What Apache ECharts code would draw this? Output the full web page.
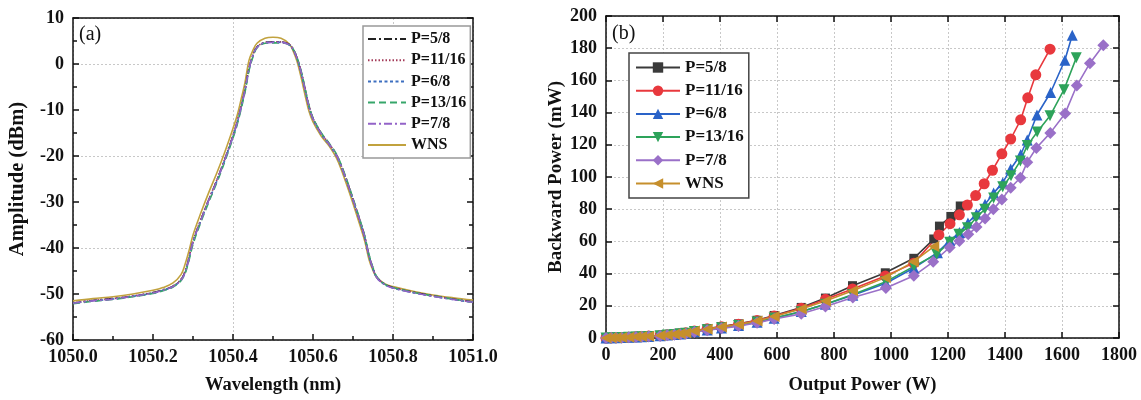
<!DOCTYPE html>
<html><head><meta charset="utf-8">
<script src="https://cdn.jsdelivr.net/npm/echarts@6/dist/echarts.min.js"></script>
<style>html,body{margin:0;padding:0;background:#fff}#c{width:1141px;height:400px}</style>
</head><body><div id="c"></div>
<script>
// ---------- (a) spectra ----------
const wavelength = [1050.00, 1050.05, 1050.10, 1050.15, 1050.20, 1050.225, 1050.25, 1050.27, 1050.28, 1050.29, 1050.30, 1050.32, 1050.34, 1050.36, 1050.38, 1050.40, 1050.41, 1050.42, 1050.43, 1050.44, 1050.45, 1050.46, 1050.48, 1050.50, 1050.52, 1050.54, 1050.55, 1050.56, 1050.57, 1050.58, 1050.59, 1050.60, 1050.62, 1050.64, 1050.66, 1050.68, 1050.70, 1050.72, 1050.73, 1050.74, 1050.75, 1050.76, 1050.78, 1050.80, 1050.85, 1050.90, 1050.95, 1051.00];
const ampP58  = [-52.0, -51.4, -51.0, -50.5, -49.7, -49.1, -48.3, -46.9, -45.2, -42.2, -38.6, -33.8, -29.4, -25.2, -20.6, -15.6, -12.8, -9.4, -5.6, -1.0, 1.9, 3.7, 4.7, 4.8, 4.8, 4.3, 3.3, 1.3, -1.6, -5.4, -9.2, -11.8, -15.0, -17.3, -20.0, -24.3, -29.4, -34.8, -37.8, -41.6, -44.4, -46.4, -47.9, -48.6, -49.6, -50.4, -51.1, -51.7];
const ampP1116 = [-51.9, -51.4, -51.0, -50.4, -49.7, -49.1, -48.3, -46.8, -45.1, -42.1, -38.5, -33.7, -29.3, -25.1, -20.5, -15.5, -12.7, -9.3, -5.5, -0.9, 2.0, 3.7, 4.7, 4.8, 4.8, 4.3, 3.3, 1.4, -1.5, -5.3, -9.1, -11.8, -15.0, -17.3, -20.0, -24.3, -29.4, -34.8, -37.8, -41.6, -44.5, -46.4, -47.9, -48.6, -49.6, -50.4, -51.1, -51.7];
const ampP68  = [-52.0, -51.5, -51.1, -50.5, -49.8, -49.2, -48.4, -47.0, -45.4, -42.4, -38.8, -34.0, -29.6, -25.4, -20.8, -15.8, -13.0, -9.6, -5.8, -1.2, 1.8, 3.6, 4.6, 4.7, 4.7, 4.2, 3.2, 1.2, -1.8, -5.6, -9.4, -12.0, -15.2, -17.5, -20.2, -24.5, -29.6, -35.0, -38.0, -41.8, -44.6, -46.5, -48.0, -48.7, -49.7, -50.5, -51.2, -51.8];
const ampP1316 = [-52.1, -51.6, -51.2, -50.6, -49.9, -49.3, -48.5, -47.1, -45.6, -42.7, -39.2, -34.3, -29.9, -25.7, -21.1, -16.1, -13.3, -9.9, -6.1, -1.5, 1.6, 3.5, 4.5, 4.6, 4.6, 4.2, 3.3, 1.4, -1.4, -5.2, -9.0, -11.7, -14.9, -17.2, -19.8, -24.1, -29.2, -34.6, -37.6, -41.4, -44.3, -46.3, -47.9, -48.6, -49.6, -50.4, -51.1, -51.8];
const ampP78  = [-52.0, -51.5, -51.1, -50.5, -49.8, -49.2, -48.4, -47.0, -45.4, -42.3, -38.7, -33.9, -29.5, -25.3, -20.7, -15.7, -12.9, -9.5, -5.7, -1.1, 1.9, 3.6, 4.6, 4.7, 4.7, 4.2, 3.2, 1.2, -1.7, -5.5, -9.3, -11.9, -15.1, -17.4, -20.1, -24.4, -29.5, -34.9, -37.9, -41.7, -44.5, -46.5, -48.0, -48.7, -49.7, -50.5, -51.2, -51.8];
const ampWNS  = [-51.5, -51.0, -50.6, -50.0, -49.2, -48.6, -47.6, -45.8, -43.6, -40.6, -37.2, -32.3, -27.8, -23.6, -19.0, -14.0, -11.3, -7.8, -4.0, 0.8, 3.0, 4.5, 5.6, 5.8, 5.6, 4.4, 2.9, 0.6, -2.8, -6.7, -10.3, -12.6, -15.6, -17.8, -20.7, -25.2, -30.3, -35.8, -38.7, -42.5, -44.9, -46.5, -47.8, -48.4, -49.4, -50.2, -50.8, -51.3];

// ---------- (b) backward power ----------
const lowPower = [0, 18, 35, 55, 80, 105, 125, 150, 190, 215, 240, 260, 280, 310, 355, 405, 465, 530, 590];
const outP58   = lowPower.concat([685, 770, 865, 980, 1080, 1150, 1170, 1210, 1243]);
const backP58  = [0, 0.1, 0.2, 0.3, 0.5, 0.7, 0.9, 1.2, 1.6, 2.0, 2.5, 2.9, 3.3, 4.5, 5.8, 7.1, 8.8, 11.0, 14.0, 19.0, 24.8, 32.5, 40.5, 49.5, 61.5, 69.5, 75.5, 82.0];
const outP1116  = lowPower.concat([685, 770, 865, 980, 1080, 1168, 1207, 1240, 1268, 1297, 1327, 1356, 1389, 1420, 1455, 1480, 1508, 1558]);
const backP1116 = [0, 0.1, 0.2, 0.3, 0.5, 0.7, 0.9, 1.2, 1.6, 2.0, 2.4, 2.8, 3.2, 4.4, 5.7, 7.0, 8.6, 10.8, 13.7, 18.5, 24.0, 30.5, 38.5, 46.5, 64.0, 71.0, 76.5, 82.6, 88.5, 95.8, 104.2, 114.4, 123.6, 135.5, 149.2, 163.5, 179.4];
const outP68   = lowPower.concat([685, 770, 866, 982, 1080, 1163, 1206, 1240, 1270, 1300, 1330, 1360, 1392, 1420, 1455, 1478, 1512, 1560, 1610, 1636]);
const backP68  = [0, 0.1, 0.2, 0.3, 0.4, 0.6, 0.8, 1.0, 1.4, 1.8, 2.2, 2.5, 2.9, 3.9, 5.0, 6.2, 7.7, 9.8, 12.2, 16.5, 21.0, 26.5, 34.0, 43.5, 53.0, 60.5, 65.5, 71.5, 77.0, 83.0, 90.0, 96.5, 105.0, 114.0, 123.0, 138.5, 152.5, 172.5, 188.0];
const outP1316  = lowPower.concat([685, 770, 866, 982, 1080, 1160, 1206, 1238, 1268, 1299, 1329, 1360, 1392, 1421, 1454, 1478, 1513, 1558, 1607, 1650]);
const backP1316 = [0, 0.1, 0.2, 0.3, 0.4, 0.6, 0.8, 1.0, 1.4, 1.8, 2.2, 2.6, 2.9, 4.0, 5.1, 6.3, 7.8, 9.9, 12.4, 16.3, 21.0, 27.0, 35.0, 44.5, 52.0, 59.5, 64.4, 68.5, 74.7, 80.0, 87.0, 94.0, 100.8, 110.0, 119.5, 128.0, 138.0, 154.2, 174.0];
const outP78   = lowPower.concat([685, 770, 866, 982, 1080, 1148, 1206, 1240, 1271, 1300, 1330, 1359, 1389, 1420, 1454, 1478, 1510, 1559, 1611, 1652, 1698, 1745]);
const backP78  = [0, 0.1, 0.2, 0.2, 0.4, 0.6, 0.7, 0.9, 1.3, 1.7, 2.0, 2.4, 2.7, 3.7, 4.8, 6.0, 7.4, 9.4, 11.8, 15.0, 19.6, 25.2, 31.0, 38.6, 47.3, 56.2, 60.2, 64.4, 68.9, 74.3, 79.9, 86.1, 93.3, 99.5, 109.2, 118.0, 127.4, 139.5, 156.8, 170.7, 181.8];
const outWNS   = lowPower.concat([685, 770, 865, 980, 1078, 1150]);
const backWNS  = [0, 0.1, 0.2, 0.3, 0.5, 0.7, 0.9, 1.1, 1.5, 1.9, 2.3, 2.7, 3.1, 4.3, 5.5, 6.8, 8.4, 10.6, 13.3, 18.0, 23.0, 29.3, 37.5, 47.3, 56.8];

const legendNames = ['P=5/8', 'P=11/16', 'P=6/8', 'P=13/16', 'P=7/8', 'WNS'];
const xTicksA = [1050.0, 1050.2, 1050.4, 1050.6, 1050.8, 1051.0];

const FONT = 'Liberation Serif';
const zip = (a, b) => a.map((v, i) => [v, b[i]]);
const specData = [ampP58, ampP1116, ampP68, ampP1316, ampP78, ampWNS];
const specColors = ['#222222', '#a33a58', '#3d6fc0', '#36a66a', '#9363c8', '#c1a23e'];
const specDash = [[8, 3, 2, 3], [1.5, 2], [3, 2.5], [7, 4], [8, 3, 2, 3], 'solid'];

const bOut = [outP58, outP1116, outP68, outP1316, outP78, outWNS];
const bBack = [backP58, backP1116, backP68, backP1316, backP78, backWNS];
const bColors = ['#3a3a3a', '#e8383d', '#2a63c8', '#2da35a', '#9a70c8', '#c68f2c'];
const bSymbols = ['rect', 'circle', 'triangle', 'triangle', 'diamond', 'triangle'];
const bRot = [0, 0, 0, 180, 0, 90];
const bSize = [9, 11, 11, 11, 12, 11];

const axisTxt = {fontFamily: FONT, fontWeight: 'bold', fontSize: 18, color: '#111'};
const nameTxt = {fontFamily: FONT, fontWeight: 'bold', fontSize: 18.5, color: '#111'};
const lineSt = {onZero: false, lineStyle: {color: '#111', width: 1.5}};
const gridLine = {show: true, lineStyle: {color: '#c8c8c8', type: [2, 2], width: 1}};
const tickSt = {inside: true, length: 6, lineStyle: {color: '#111', width: 1.5}};
const minorSt = {show: true, splitNumber: 2, length: 4, lineStyle: {color: '#111', width: 1.5}};

const series = [];
specData.forEach((d, i) => {
  series.push({
    name: legendNames[i], type: 'line', xAxisIndex: 0, yAxisIndex: 0,
    data: zip(wavelength, d), symbol: 'none', smooth: 0.35,
    lineStyle: {color: specColors[i], width: 1.6, type: specDash[i]},
    itemStyle: {color: specColors[i]}, z: i === 5 ? 2 : 3
  });
});
bOut.forEach((o, i) => {
  series.push({
    name: 'b:' + legendNames[i], type: 'line', xAxisIndex: 2, yAxisIndex: 3,
    data: zip(o, bBack[i]), symbol: bSymbols[i], symbolSize: bSize[i], symbolRotate: bRot[i],
    showAllSymbol: true,
    lineStyle: {color: bColors[i], width: 1.6},
    itemStyle: {color: bColors[i]}
  });
});

const chart = echarts.init(document.getElementById('c'));
chart.setOption({
  animation: false,
  backgroundColor: '#fff',
  textStyle: {fontFamily: FONT},
  grid: [
    {left: 73, top: 18, width: 400, height: 324},
    {left: 606, top: 16, width: 513, height: 323}
  ],
  graphic: [
    {type: 'text', left: 79, top: 25, style: {text: '(a)', font: '20px "Liberation Serif"', fill: '#111'}},
    {type: 'text', left: 612, top: 24, style: {text: '(b)', font: '20px "Liberation Serif"', fill: '#111'}}
  ],
  legend: [
    {
      data: legendNames, orient: 'vertical', left: 363, top: 26,
      itemWidth: 38, itemHeight: 14, itemGap: 5.2, padding: [5, 4, 5, 4],
      itemStyle: {color: 'rgba(0,0,0,0)', borderColor: 'rgba(0,0,0,0)', borderWidth: 0},
      textStyle: {fontFamily: FONT, fontWeight: 'bold', fontSize: 16, color: '#111'},
      borderColor: '#999', borderWidth: 1.5, backgroundColor: '#fff'
    },
    {
      data: legendNames.map(n => 'b:' + n), orient: 'vertical', left: 629, top: 53,
      formatter: n => n.slice(2),
      itemWidth: 44, itemHeight: 13, itemGap: 6.2, padding: [6, 5, 6, 6],
      textStyle: {fontFamily: FONT, fontWeight: 'bold', fontSize: 17, color: '#111'},
      borderColor: '#444', borderWidth: 1.5, backgroundColor: '#fff'
    }
  ],
  xAxis: [
    {gridIndex: 0, type: 'value', min: 1050, max: 1051, interval: 0.2, position: 'bottom',
     name: 'Wavelength (nm)', nameLocation: 'middle', nameGap: 36, nameTextStyle: nameTxt,
     axisLine: lineSt, axisTick: tickSt, minorTick: minorSt,
     axisLabel: Object.assign({margin: 8, formatter: v => xTicksA.find(t => Math.abs(t - v) < 1e-6) !== undefined ? v.toFixed(1) : ''}, axisTxt),
     splitLine: {show: false}},
    {gridIndex: 0, type: 'value', min: 1050, max: 1051, interval: 0.4, position: 'top',
     axisLine: lineSt, axisTick: {show: false}, axisLabel: {show: false}, splitLine: gridLine},
    {gridIndex: 1, type: 'value', min: 0, max: 1800, interval: 200, position: 'bottom',
     name: 'Output Power (W)', nameLocation: 'middle', nameGap: 38, nameTextStyle: nameTxt,
     axisLine: lineSt, axisTick: tickSt,
     axisLabel: Object.assign({margin: 8, formatter: v => String(v)}, axisTxt), splitLine: gridLine},
    {gridIndex: 1, type: 'value', min: 0, max: 1800, interval: 200, position: 'top',
     axisLine: lineSt, axisTick: tickSt, axisLabel: {show: false}, splitLine: {show: false}}
  ],
  yAxis: [
    {gridIndex: 0, type: 'value', min: -60, max: 10, interval: 10, position: 'left',
     name: 'Amplitude (dBm)', nameLocation: 'middle', nameGap: 45,
     nameTextStyle: Object.assign({}, nameTxt, {fontSize: 20.5}),
     axisLine: lineSt, axisTick: tickSt, minorTick: minorSt,
     axisLabel: Object.assign({margin: 9}, axisTxt), splitLine: {show: false}},
    {gridIndex: 0, type: 'value', min: -60, max: 10, interval: 10, position: 'right',
     axisLine: lineSt, axisTick: tickSt, minorTick: minorSt,
     axisLabel: {show: false}, splitLine: {show: false}},
    {gridIndex: 0, type: 'value', min: -60, max: 10, interval: 20, position: 'left',
     axisLine: {show: false}, axisTick: {show: false}, axisLabel: {show: false}, splitLine: gridLine},
    {gridIndex: 1, type: 'value', min: 0, max: 200, interval: 20, position: 'left',
     name: 'Backward Power (mW)', nameLocation: 'middle', nameGap: 40,
     nameTextStyle: Object.assign({}, nameTxt, {fontSize: 19}),
     axisLine: lineSt, axisTick: tickSt,
     axisLabel: Object.assign({margin: 9}, axisTxt), splitLine: gridLine},
    {gridIndex: 1, type: 'value', min: 0, max: 200, interval: 20, position: 'right',
     axisLine: lineSt, axisTick: tickSt, axisLabel: {show: false}, splitLine: {show: false}}
  ],
  series: series
});
</script>
</body></html>
